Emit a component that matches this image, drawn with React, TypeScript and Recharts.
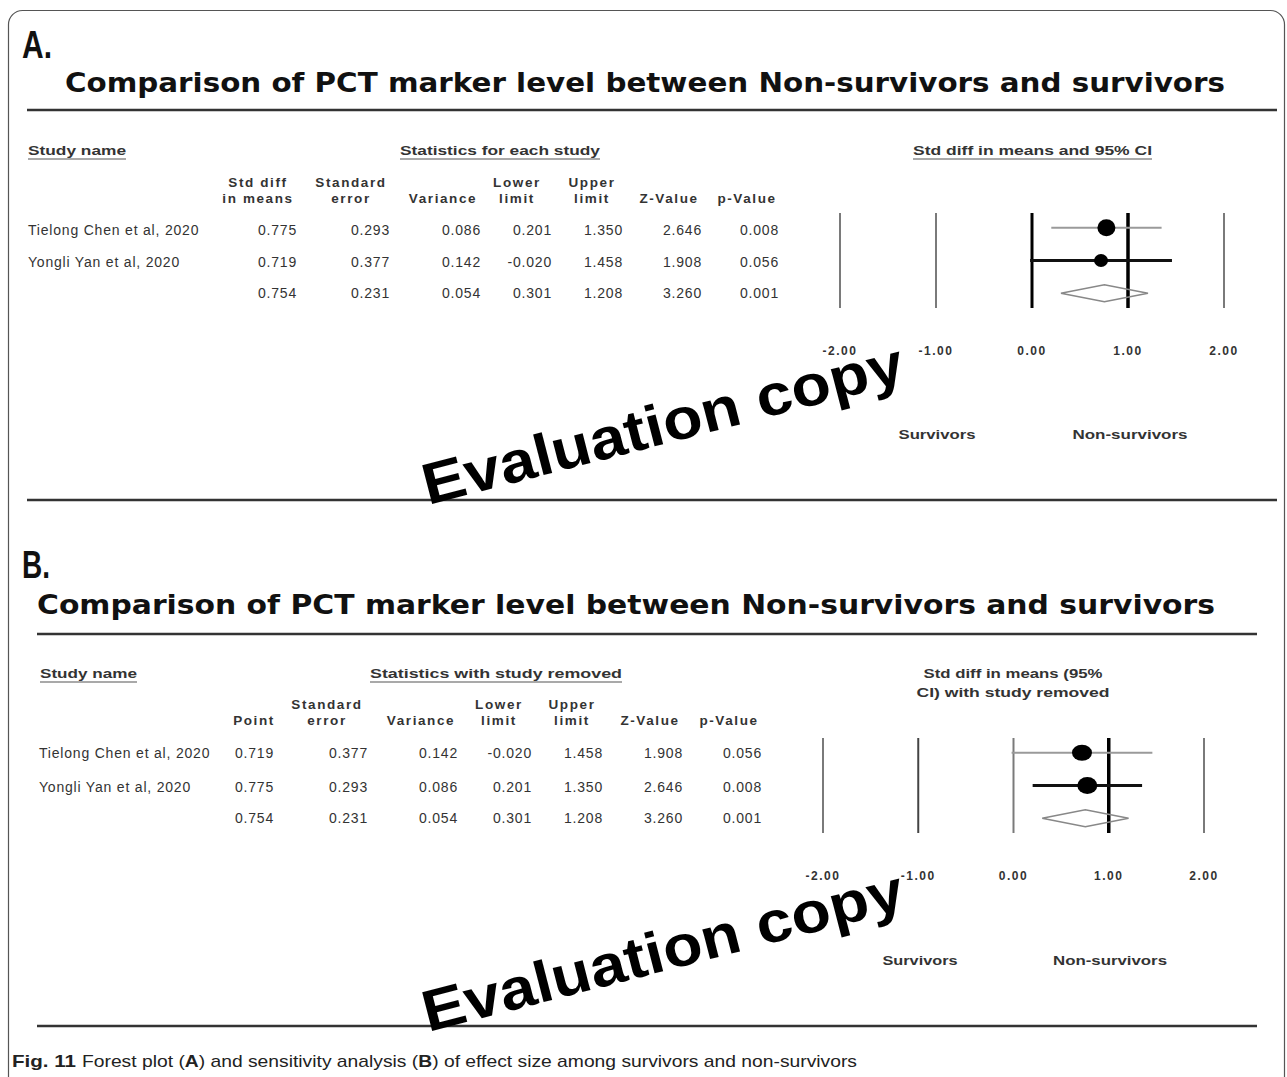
import React from 'react';
import { ScatterChart, Scatter, XAxis, YAxis, ReferenceLine, ErrorBar } from 'recharts';

const studyNames = ['Tielong Chen et al, 2020', 'Yongli Yan et al, 2020'];

// A: statistics for each study (last entry = pooled)
const pointA = [0.775, 0.719, 0.754];
const seA = [0.293, 0.377, 0.231];
const varA = [0.086, 0.142, 0.054];
const lowerA = [0.201, -0.02, 0.301];
const upperA = [1.35, 1.458, 1.208];
const zA = [2.646, 1.908, 3.26];
const pA = [0.008, 0.056, 0.001];

// B: statistics with study removed (last entry = pooled)
const pointB = [0.719, 0.775, 0.754];
const seB = [0.377, 0.293, 0.231];
const varB = [0.142, 0.086, 0.054];
const lowerB = [-0.02, 0.201, 0.301];
const upperB = [1.458, 1.35, 1.208];
const zB = [1.908, 2.646, 3.26];
const pB = [0.056, 0.008, 0.001];

const axisTicks = [-2, -1, 0, 1, 2];
const sideLabels = ['Survivors', 'Non-survivors'];

const headersA = [['Std diff', 'in means'], ['Standard', 'error'], ['', 'Variance'], ['Lower', 'limit'], ['Upper', 'limit'], ['', 'Z-Value'], ['', 'p-Value']];
const headersB = [['', 'Point'], ['Standard', 'error'], ['', 'Variance'], ['Lower', 'limit'], ['Upper', 'limit'], ['', 'Z-Value'], ['', 'p-Value']];

const TXT = '#333';
const SANS = '"Liberation Sans", Arial, sans-serif';

const TickLabel = (props: any) => {
  const { x, y, payload } = props;
  return (
    <text x={x} y={y} dy={47} textAnchor="middle" fontFamily={SANS} fontSize={12} fontWeight="bold" fill={TXT} letterSpacing={1.5}>
      {Number(payload.value).toFixed(2)}
    </text>
  );
};

type ForestProps = {
  left: number;
  top: number;
  est: number[];
  lower: number[];
  upper: number[];
  refStyles: { stroke: string; width: number }[];
  ciStyles: { stroke: string; width: number }[];
  dots: { rx: number; ry: number }[];
  marginLeft: number;
  marginRight: number;
  marginTop: number;
};

const Forest = ({ left, top, est, lower, upper, refStyles, ciStyles, dots, marginLeft, marginRight, marginTop }: ForestProps) => {
  const rows = est.slice(0, 2).map((v, i) => ({ x: v, y: i, err: [v - lower[i], upper[i] - v] }));
  const s = 2;
  const h = 0.26;
  const diamond = [
    { x: lower[s], y: s },
    { x: est[s], y: s - h },
    { x: upper[s], y: s },
    { x: est[s], y: s + h },
    { x: lower[s], y: s },
  ];
  const plotH = 95;
  const height = 190;
  return (
    <div style={{ position: 'absolute', left, top }}>
      <ScatterChart width={480} height={height} margin={{ top: marginTop, right: marginRight, bottom: 0, left: marginLeft }}>
        <XAxis
          type="number"
          dataKey="x"
          domain={[-2, 2]}
          ticks={axisTicks}
          interval={0}
          axisLine={false}
          tickLine={false}
          tickSize={0}
          tickMargin={0}
          height={height - marginTop - plotH}
          tick={<TickLabel />}
        />
        <YAxis type="number" dataKey="y" domain={[-0.45, 2.45]} reversed hide />
        {axisTicks.map((t, i) => (
          <ReferenceLine key={t} x={t} stroke={refStyles[i].stroke} strokeWidth={refStyles[i].width} />
        ))}
        {rows.map((r, i) => (
          <Scatter
            key={i}
            data={[r]}
            isAnimationActive={false}
            shape={(p: any) => <ellipse cx={p.cx} cy={p.cy} rx={dots[i].rx} ry={dots[i].ry} fill="#000" />}
          >
            <ErrorBar dataKey="err" direction="x" width={0} stroke={ciStyles[i].stroke} strokeWidth={ciStyles[i].width} isAnimationActive={false} />
          </Scatter>
        ))}
        <Scatter
          data={diamond}
          isAnimationActive={false}
          line={{ stroke: '#888', strokeWidth: 1.5 }}
          lineType="joint"
          fill="none"
          shape={() => <g />}
        />
      </ScatterChart>
    </div>
  );
};

const fmt = (v: number) => v.toFixed(3);

const Table = (props: {
  cols: number[][];
  headers: string[][];
  rights: number[];
  centers: number[];
  nameX: number;
  headY: number;
  rowYs: number[];
}) => {
  const { cols, headers, rights, centers, nameX, headY, rowYs } = props;
  return (
    <g fontFamily={SANS} fill={TXT}>
      {headers.map((hl, i) => (
        <g key={'h' + i} fontWeight="bold" fontSize={13.5} letterSpacing={1.6}>
          {hl[0] && (
            <text x={centers[i]} y={headY} textAnchor="middle">{hl[0]}</text>
          )}
          <text x={centers[i]} y={headY + 16} textAnchor="middle">{hl[1]}</text>
        </g>
      ))}
      {studyNames.map((n, i) => (
        <text key={'n' + i} x={nameX} y={rowYs[i]} fontSize={14} letterSpacing={0.8}>{n}</text>
      ))}
      {cols.map((col, c) =>
        col.map((v, r) => (
          <text key={c + '-' + r} x={rights[c]} y={rowYs[r]} textAnchor="end" fontSize={14} letterSpacing={0.8}>{fmt(v)}</text>
        ))
      )}
    </g>
  );
};

const Underlined = ({ x, y, len, text }: { x: number; y: number; len: number; text: string }) => (
  <g>
    <text x={x} y={y} fontFamily={SANS} fontSize={13} fontWeight="bold" fill={TXT} textLength={len} lengthAdjust="spacingAndGlyphs">{text}</text>
    <line x1={x} x2={x + len} y1={y + 4} y2={y + 4} stroke="#555" strokeWidth={1.2} />
  </g>
);

const grey = { stroke: '#7a7a7a', width: 2 };
const black = { stroke: '#000', width: 3 };

export default function App() {
  return (
    <div style={{ position: 'absolute', left: 0, top: 0, width: 1287, height: 1077, background: '#fff', overflow: 'hidden' }}>
      <Forest
        left={790}
        top={188}
        est={pointA}
        lower={lowerA}
        upper={upperA}
        refStyles={[grey, grey, black, { stroke: '#000', width: 3.5 }, grey]}
        ciStyles={[{ stroke: '#9a9a9a', width: 2 }, { stroke: '#111', width: 3 }]}
        dots={[{ rx: 9, ry: 8.5 }, { rx: 7, ry: 6.5 }]}
        marginLeft={50}
        marginRight={46}
        marginTop={25}
      />
      <Forest
        left={773}
        top={713}
        est={pointB}
        lower={lowerB}
        upper={upperB}
        refStyles={[grey, { stroke: '#444', width: 2 }, grey, { stroke: '#000', width: 3.5 }, grey]}
        ciStyles={[{ stroke: '#9a9a9a', width: 2 }, { stroke: '#111', width: 3 }]}
        dots={[{ rx: 10, ry: 8 }, { rx: 10, ry: 8.5 }]}
        marginLeft={50}
        marginRight={49}
        marginTop={25}
      />
      <svg width={1287} height={1077} style={{ position: 'absolute', left: 0, top: 0, pointerEvents: 'none' }}>
        <rect x={8.5} y={10.5} width={1276} height={1120} rx={14} fill="none" stroke="#555" strokeWidth={1.2} />

        {/* panel A */}
        <text x={22} y={58} fontFamily={SANS} fontWeight="bold" fontSize={38} fill="#111" textLength={30} lengthAdjust="spacingAndGlyphs">A.</text>
        <text x={65} y={92} fontFamily='"DejaVu Sans", sans-serif' fontWeight="bold" fontSize={26} fill="#111" textLength={1160} lengthAdjust="spacingAndGlyphs">
          Comparison of PCT marker level between Non-survivors and survivors
        </text>
        <line x1={27} x2={1277} y1={110} y2={110} stroke="#333" strokeWidth={2.5} />
        <Underlined x={28} y={155} len={98} text="Study name" />
        <Underlined x={400} y={155} len={200} text="Statistics for each study" />
        <Underlined x={913} y={155} len={239} text="Std diff in means and 95% CI" />
        <Table
          cols={[pointA, seA, varA, lowerA, upperA, zA, pA]}
          headers={headersA}
          rights={[297, 390, 481, 552, 623, 702, 779]}
          centers={[258, 351, 443, 517, 592, 669, 747]}
          nameX={28}
          headY={187}
          rowYs={[235, 267, 298]}
        />
        <g fontFamily={SANS} fontSize={12} fontWeight="bold" fill={TXT} textAnchor="middle">
          <text x={937} y={439} textLength={77} lengthAdjust="spacingAndGlyphs">{sideLabels[0]}</text>
          <text x={1130} y={439} textLength={115} lengthAdjust="spacingAndGlyphs">{sideLabels[1]}</text>
        </g>
        <line x1={27} x2={1277} y1={500} y2={500} stroke="#333" strokeWidth={2.5} />

        {/* panel B */}
        <text x={22} y={578} fontFamily={SANS} fontWeight="bold" fontSize={38} fill="#111" textLength={28} lengthAdjust="spacingAndGlyphs">B.</text>
        <text x={37} y={614} fontFamily='"DejaVu Sans", sans-serif' fontWeight="bold" fontSize={26} fill="#111" textLength={1178} lengthAdjust="spacingAndGlyphs">
          Comparison of PCT marker level between Non-survivors and survivors
        </text>
        <line x1={37} x2={1257} y1={634} y2={634} stroke="#333" strokeWidth={2.5} />
        <Underlined x={40} y={678} len={97} text="Study name" />
        <Underlined x={370} y={678} len={252} text="Statistics with study removed" />
        <g fontFamily={SANS} fontSize={13} fontWeight="bold" fill={TXT} textAnchor="middle">
          <text x={1013} y={678} textLength={179} lengthAdjust="spacingAndGlyphs">Std diff in means (95%</text>
          <text x={1013} y={697} textLength={193} lengthAdjust="spacingAndGlyphs">CI) with study removed</text>
        </g>
        <Table
          cols={[pointB, seB, varB, lowerB, upperB, zB, pB]}
          headers={headersB}
          rights={[274, 368, 458, 532, 603, 683, 762]}
          centers={[254, 327, 421, 499, 572, 650, 729]}
          nameX={39}
          headY={709}
          rowYs={[758, 792, 823]}
        />
        <g fontFamily={SANS} fontSize={12} fontWeight="bold" fill={TXT} textAnchor="middle">
          <text x={920} y={965} textLength={75} lengthAdjust="spacingAndGlyphs">{sideLabels[0]}</text>
          <text x={1110} y={965} textLength={114} lengthAdjust="spacingAndGlyphs">{sideLabels[1]}</text>
        </g>
        <line x1={37} x2={1257} y1={1026} y2={1026} stroke="#333" strokeWidth={2.5} />

        {/* watermarks */}
        <g fontFamily={SANS} fontWeight="bold" fontSize={58} fill="#000">
          <text transform="translate(428,505) rotate(-14.5)" textLength={495} lengthAdjust="spacingAndGlyphs">Evaluation copy</text>
          <text transform="translate(428,1032) rotate(-14.5)" textLength={495} lengthAdjust="spacingAndGlyphs">Evaluation copy</text>
        </g>

        {/* caption */}
        <text x={12} y={1067} fontFamily='"Liberation Sans Narrow", "Liberation Sans", sans-serif' fontSize={17} fontWeight="bold" fill="#222" textLength={64} lengthAdjust="spacingAndGlyphs">Fig. 11</text>
        <text x={82} y={1067} fontFamily='"Liberation Sans Narrow", "Liberation Sans", sans-serif' fontSize={17} fill="#222" textLength={775} lengthAdjust="spacingAndGlyphs">
          Forest plot (<tspan fontWeight="bold">A</tspan>) and sensitivity analysis (<tspan fontWeight="bold">B</tspan>) of effect size among survivors and non-survivors
        </text>
      </svg>
    </div>
  );
}
